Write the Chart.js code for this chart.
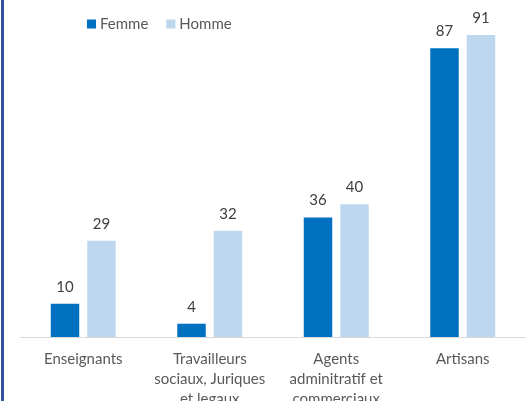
<!DOCTYPE html>
<html>
<head>
<meta charset="utf-8">
<script src="https://cdn.jsdelivr.net/npm/chart.js@4"></script>
<style>
  html, body { margin: 0; padding: 0; background: #fff; }
  #wrap { position: relative; width: 526px; height: 401px; overflow: hidden; }
  #edge { position: absolute; left: 1px; top: 0; width: 3px; height: 401px; background: #2f529d; }
</style>
</head>
<body>
<div id="wrap">
  <canvas id="chart" width="526" height="401"></canvas>
  <div id="edge"></div>
</div>
<script>
// donnees
const categories = ['Enseignants', ['Travailleurs', 'sociaux, Juriques', 'et legaux'], ['Agents', 'adminitratif et', 'commerciaux'], 'Artisans'];
const seriesNames = ['Femme', 'Homme'];
const femme = [10, 4, 36, 87];
const homme = [29, 32, 40, 91];
const colors = ['#0070c0', '#bdd7ee'];
const FONT = "Lato, 'Liberation Sans', sans-serif";

// etiquettes de valeur au-dessus des barres
const valueLabels = {
    id: 'valueLabels',
    afterDatasetsDraw(chart) {
        const ctx = chart.ctx;
        ctx.save();
        ctx.font = '15px ' + FONT;
        ctx.fillStyle = '#404040';
        ctx.textAlign = 'center';
        ctx.textBaseline = 'middle';
        chart.data.datasets.forEach((ds, i) => {
            chart.getDatasetMeta(i).data.forEach((bar, j) => {
                ctx.fillText(ds.data[j], bar.x, bar.y - 17);
            });
        });
        ctx.restore();
    }
};

// legende maison (en haut a gauche)
const legendBox = {
    id: 'legendBox',
    afterDraw(chart) {
        const ctx = chart.ctx;
        ctx.save();
        ctx.font = '15px ' + FONT;
        ctx.textBaseline = 'middle';
        let x = 87;
        const y = 24;
        seriesNames.forEach((name, i) => {
            ctx.fillStyle = colors[i];
            ctx.fillRect(x, y - 4.5, 9, 9);
            ctx.fillStyle = '#595959';
            ctx.fillText(name, x + 13, y);
            x += 13 + ctx.measureText(name).width + 18;
        });
        ctx.restore();
    }
};

new Chart(document.getElementById('chart').getContext('2d'), {
    type: 'bar',
    data: {
        labels: categories,
        datasets: [
            { label: seriesNames[0], data: femme, backgroundColor: colors[0] },
            { label: seriesNames[1], data: homme, backgroundColor: colors[1] }
        ]
    },
    options: {
        responsive: false,
        animation: false,
        devicePixelRatio: 1,
        layout: { padding: { left: 20, right: 0, top: 5, bottom: 0 } },
        datasets: {
            bar: { categoryPercentage: 0.577, barPercentage: 0.78 }
        },
        plugins: {
            legend: { display: false },
            tooltip: { enabled: false }
        },
        scales: {
            x: {
                grid: { display: false, drawTicks: false, tickLength: 0 },
                border: { color: '#d9d9d9', width: 1 },
                ticks: {
                    color: '#595959',
                    padding: 12,
                    maxRotation: 0,
                    autoSkip: false,
                    font: { size: 15, family: FONT, lineHeight: 1.33 }
                },
                afterFit(scale) { scale.height = 64; }
            },
            y: {
                display: false,
                min: 0,
                max: 100
            }
        }
    },
    plugins: [valueLabels, legendBox]
});
</script>
</body>
</html>
